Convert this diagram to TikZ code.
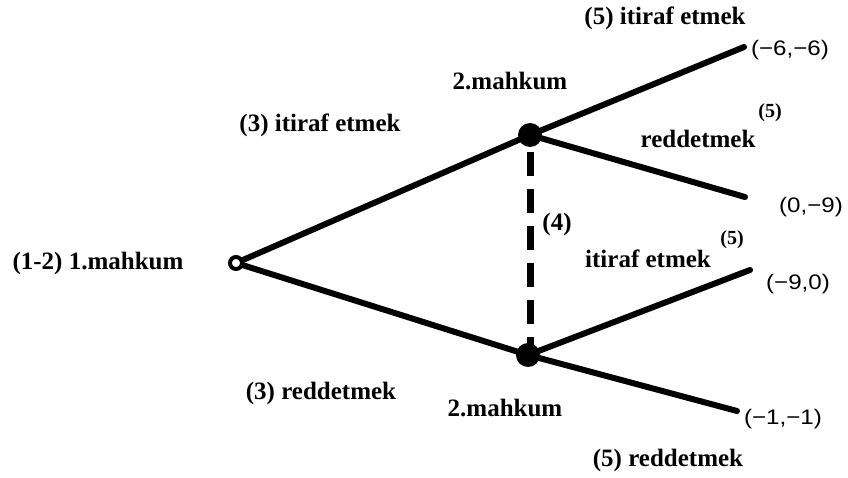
\documentclass[tikz,border=0pt]{standalone}
\usepackage{fontspec}
\setmainfont{Liberation Serif}
\setsansfont{Liberation Sans}
\begin{document}
\begin{tikzpicture}[x=1pt,y=-1pt,
  edge/.style={line width=6pt,line cap=round},
  lbl/.style={font=\fontsize{25}{27}\selectfont\bfseries,inner sep=0pt,text=black},
  pay/.style={font=\sffamily\fontsize{21}{23}\selectfont,inner sep=0pt,xscale=1.15},
  sup/.style={font=\fontsize{20}{22}\selectfont\bfseries,inner sep=0pt},
  chance/.style={circle,draw,line width=4pt,minimum size=12pt,inner sep=0pt,fill=white},
  dec/.style={circle,fill,minimum size=24pt,inner sep=0pt}]
\useasboundingbox (0,0) rectangle (848,478);
\coordinate (root) at (236,263);
\node[dec] (u) at (530,135) {};
\node[dec] (l) at (528,355) {};
\coordinate (t1) at (744,47);
\coordinate (t2) at (745,197);
\coordinate (t3) at (750,270);
\coordinate (t4) at (737,411);
\draw[edge] (root) -- (u.center);
\draw[edge] (root) -- (l.center);
\draw[edge] (u.center) -- (t1);
\draw[edge] (u.center) -- (t2);
\draw[edge] (l.center) -- (t3);
\draw[edge] (l.center) -- (t4);
\draw[line width=7pt,dash pattern=on 24pt off 13pt] (530,152) -- (530,345);
\node[chance] (r) at (root) {};
\node[lbl] (n1) at (98,263) {(1-2) 1.mahkum};
\node[lbl] (a1) at (320,125) {(3) itiraf etmek};
\node[lbl] (a2) at (321,393) {(3) reddetmek};
\node[lbl] (m1) at (510,81) {2.mahkum};
\node[lbl] (m2) at (505,408) {2.mahkum};
\node[lbl] (i4) at (557,224) {(4)};
\node[lbl] (b1) at (665,18) {(5) itiraf etmek};
\node[lbl] (b2) at (698,139) {reddetmek};
\node[sup] (s2) at (770,113) {(5)};
\node[lbl] (b3) at (648,259) {itiraf etmek};
\node[sup] (s3) at (732,240) {(5)};
\node[lbl] (b4) at (668,460) {(5) reddetmek};
\node[pay] (p1) at (790,50) {(−6,−6)};
\node[pay] (p2) at (811,207) {(0,−9)};
\node[pay] (p3) at (798,284) {(−9,0)};
\node[pay] (p4) at (783,419) {(−1,−1)};
\end{tikzpicture}
\end{document}
